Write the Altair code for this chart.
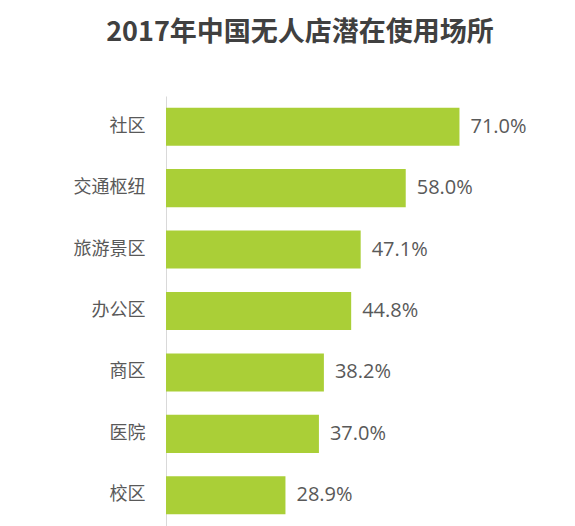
import altair as alt
import pandas as pd

categories = ["社区", "交通枢纽", "旅游景区", "办公区", "商区", "医院", "校区"]
values = [71.0, 58.0, 47.1, 44.8, 38.2, 37.0, 28.9]
labels = ["71.0%", "58.0%", "47.1%", "44.8%", "38.2%", "37.0%", "28.9%"]

df = pd.DataFrame({"cat": categories, "val": values, "lab": labels})

y = alt.Y("cat:N", sort=categories, title=None,
          scale=alt.Scale(paddingInner=0.38, paddingOuter=0.19),
          axis=alt.Axis(ticks=False, labelPadding=21, labelFontSize=18,
                        labelColor="#595959", labelFont="Noto Sans CJK SC",
                        domainColor="#d9d9d9", domainWidth=1, grid=False))
x = alt.X("val:Q", title=None, scale=alt.Scale(domain=[0, 90], nice=False),
          axis=None)

bars = alt.Chart(df).mark_bar(color="#aacf37").encode(x=x, y=y)
text = alt.Chart(df).mark_text(align="left", baseline="middle", dx=11,
                               fontSize=20, color="#595959",
                               font="Open Sans").encode(x=x, y=y, text="lab:N")

chart = (bars + text).properties(
    width=372, height=430,
    autosize=alt.AutoSizeParams(type="none"),
    padding={"left": 158, "top": 88, "right": 0, "bottom": 0},
    title=alt.TitleParams("2017年中国无人店潜在使用场所", anchor="middle",
                          dx=-52, offset=49, fontSize=27, fontWeight="bold",
                          font="Noto Sans CJK SC", color="#404040"),
).configure_view(stroke=None)

chart.save("out.html", embed_options={"renderer": "svg", "actions": False})
